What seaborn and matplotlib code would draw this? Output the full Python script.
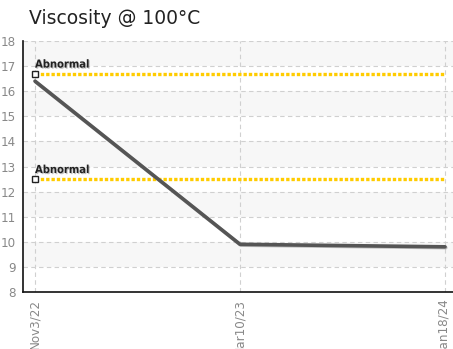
import matplotlib
matplotlib.use("Agg")
import matplotlib.pyplot as plt
import matplotlib.patheffects as pe
import seaborn as sns
import pandas as pd

# data
dates = ["Nov3/22", "Mar10/23", "Jan18/24"]
viscosity = [16.4, 9.9, 9.8]
limit_values = [16.7, 12.5]
limit_labels = ["Abnormal", "Abnormal"]
y_ticks = [8, 9, 10, 11, 12, 13, 14, 15, 16, 17, 18]

sns.set_style("white")
plt.rcParams["font.family"] = ["DejaVu Sans"]

fig = plt.figure(figsize=(4.53, 3.49), dpi=100)
ax = fig.add_axes([23 / 453, 57 / 349, 430 / 453, 251 / 349])

# alternating background bands
for lo in range(y_ticks[0], y_ticks[-1]):
    if (lo - y_ticks[0]) % 2 == 1:
        ax.axhspan(lo, lo + 1, color="#f7f7f7", zorder=0, lw=0)

df = pd.DataFrame({"date": dates, "value": viscosity})
sns.lineplot(data=df, x="date", y="value", ax=ax, color="#555555", linewidth=2.6,
             sort=False, zorder=4,
             path_effects=[pe.SimpleLineShadow(offset=(0.6, -0.6), shadow_color="#999999", alpha=0.6),
                           pe.Normal()])

# abnormal limit lines with their start markers and labels
for val, lab in zip(limit_values, limit_labels):
    ax.plot([0, len(dates) - 1], [val, val], color="#FFCC00", linewidth=2.4,
            linestyle=(0, (1, 0.6)), zorder=3)
    ax.plot([0], [val], marker="s", markersize=4.5, markerfacecolor="white",
            markeredgecolor="#222222", markeredgewidth=1.0, zorder=5, clip_on=False)
    ax.text(0.0, val + 0.16, lab, fontsize=8, fontweight="bold", fontstretch="condensed",
            color="#222222", ha="left", va="bottom", zorder=6,
            path_effects=[pe.SimplePatchShadow(offset=(0.8, -0.8), shadow_rgbFace="#aaaaaa", alpha=0.7),
                          pe.Normal()])

ax.set_ylim(y_ticks[0], y_ticks[-1])
ax.set_xlim(-12 / 205, 2 + 8 / 205)
ax.set_yticks(y_ticks)
ax.set_xticks(range(len(dates)))
ax.set_xticklabels(dates, rotation=90, va="top", ha="center")
ax.set_xlabel("")
ax.set_ylabel("")

ax.grid(True, color="#d0d0d0", linestyle=(0, (4, 3)), linewidth=0.8)
ax.set_axisbelow(True)
for s in ["top", "right"]:
    ax.spines[s].set_visible(False)
for s in ["left", "bottom"]:
    ax.spines[s].set_color("#111111")
    ax.spines[s].set_linewidth(1.2)

ax.tick_params(axis="both", direction="inout", length=6, width=1.2, color="#111111",
               labelcolor="#888888", labelsize=9.5)
for t in ax.get_xticklabels() + ax.get_yticklabels():
    t.set_fontstretch("condensed")
ax.tick_params(axis="y", pad=2)
ax.tick_params(axis="x", pad=2)

fig.text(29 / 453, 1 - 18 / 349, "Viscosity @ 100\u00b0C", fontsize=13.5, color="#222222",
         ha="left", va="center")

fig.savefig("out.png", dpi=100)
